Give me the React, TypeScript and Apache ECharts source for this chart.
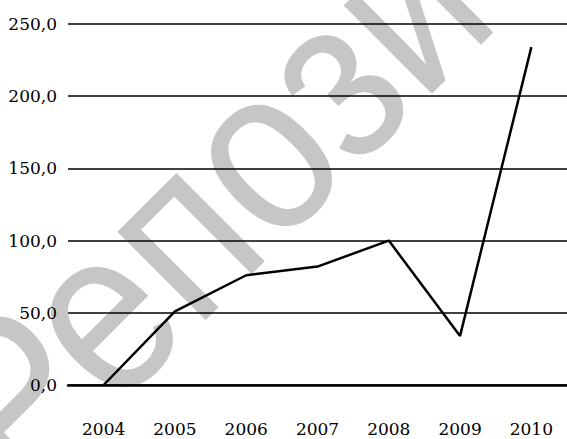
import React, { useEffect, useRef } from "react";
import * as echarts from "echarts";

const years = ["2004", "2005", "2006", "2007", "2008", "2009", "2010"];
const values = [0, 51, 76, 82, 100, 34, 234];
const yTicks = { min: 0, max: 250, interval: 50 };
const watermark = "Репозиторий";

const serif = "DejaVu Serif";

export default function App() {
  const ref = useRef<HTMLDivElement>(null);
  useEffect(() => {
    const chart = echarts.init(ref.current!, null, { renderer: "svg" });
    chart.setOption({
      animation: false,
      backgroundColor: "#ffffff",
      grid: { left: 68, top: 24, width: 504, bottom: 54, containLabel: false },
      graphic: [
        {
          type: "text",
          x: -35,
          y: 445,
          rotation: (45 * Math.PI) / 180,
          scaleX: 0.92,
          scaleY: 1.05,
          z: -10,
          silent: true,
          style: {
            text: watermark,
            fontSize: 225,
            fontWeight: "normal",
            fontFamily: "Liberation Sans",
            fill: "#c6c6c6",
            textAlign: "left",
            textVerticalAlign: "middle",
          },
        },
      ],
      xAxis: {
        type: "category",
        data: years,
        boundaryGap: true,
        axisLine: { show: true, lineStyle: { color: "#000", width: 2.5 } },
        axisTick: { show: false },
        axisLabel: {
          color: "#000",
          fontFamily: serif,
          fontSize: 17,
          margin: 35,
        },
      },
      yAxis: {
        type: "value",
        min: yTicks.min,
        max: yTicks.max,
        interval: yTicks.interval,
        axisLine: { show: false },
        axisTick: { show: false },
        splitLine: { show: true, lineStyle: { color: "#000", width: 1.6 } },
        axisLabel: {
          color: "#000",
          fontFamily: serif,
          fontSize: 17,
          margin: 11,
          formatter: (v: number) => v.toFixed(1).replace(".", ","),
        },
      },
      series: [
        {
          type: "line",
          data: values,
          showSymbol: false,
          symbol: "none",
          lineStyle: { color: "#000", width: 2.5 },
          z: 5,
        },
      ],
    });
    return () => chart.dispose();
  }, []);
  return (
    <div
      ref={ref}
      style={{ position: "fixed", left: 0, top: 0, width: 567, height: 439 }}
    />
  );
}
